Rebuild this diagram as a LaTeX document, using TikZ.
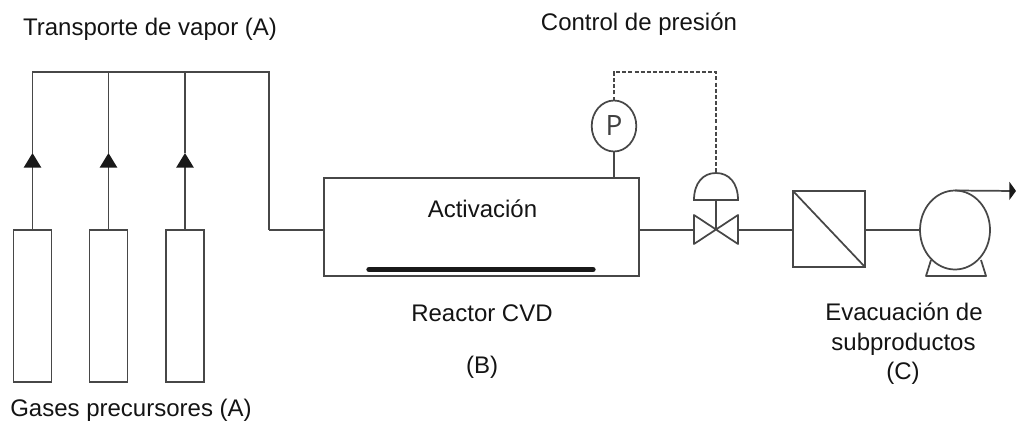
\documentclass[tikz,border=0pt]{standalone}
\usepackage{fontspec}
\setmainfont{Liberation Sans}
\newfontfamily\gaugefont{Open Sans}
\usetikzlibrary{arrows.meta,shapes.geometric}

\tikzset{
	pipe/.style={line width=1.3pt,draw=black!72},
	tube/.style={pipe,rectangle,minimum width=38*0.75pt,minimum height=152*0.75pt,inner sep=0pt,outer sep=0pt},
	flow/.style={pipe,-{Triangle[length=11pt,width=13pt,color=black!90]}},
	label/.style={font=\fontsize{18}{22}\selectfont,anchor=base,inner sep=0pt,text=black!92},
}

\begin{document}
\begin{tikzpicture}[x=0.75pt,y=-0.75pt]
	\useasboundingbox (0,0) rectangle (1016,421);

	%% gas bottles
	\node [tube] (b1) at (32.5,306) {};
	\node [tube] (b2) at (108.5,306) {};
	\node [tube] (b3) at (185,306) {};

	\coordinate (h1) at (32.5,72);
	\coordinate (h2) at (108.5,72);
	\coordinate (h3) at (185,72);
	\coordinate (h4) at (269,72);
	\coordinate (inlet) at (269,230);

	\coordinate (a1) at (32.5,153);
	\coordinate (a2) at (108.5,153);
	\coordinate (a3) at (185,153);

	\draw [flow] (b1.north) -- (a1);
	\draw [flow] (b2.north) -- (a2);
	\draw [flow] (b3.north) -- (a3);
	\draw [pipe] (a1) -- (h1) -- (h4) -- (inlet);
	\draw [pipe] (a2) -- (h2);
	\draw [pipe] (a3) -- (h3);

	%% reactor
	\node [pipe,draw,rectangle,minimum width=315*0.75pt,minimum height=98*0.75pt,inner sep=0pt,outer sep=0pt] (reactor) at (481.5,227) {};
	\draw [pipe] (inlet) -- (inlet -| reactor.west);
	\coordinate (s1) at (369,269.5);
	\coordinate (s2) at (593,269.5);
	\draw [line width=4pt,line cap=round,black!90] (s1) -- (s2);

	%% gauge
	\node [pipe,draw,ellipse,minimum width=44.6*0.75pt,minimum height=51*0.75pt,inner sep=0pt,outer sep=0pt,text=black!75,font=\gaugefont\fontsize{21}{24}\selectfont] (gauge) at (614,126) {P};
	\draw [pipe] (gauge.south) -- (gauge.south |- reactor.north);

	%% valve
	\coordinate (v) at (716,230);
	\coordinate (vl1) at (694,215);
	\coordinate (vl2) at (694,244);
	\coordinate (vr1) at (738,215);
	\coordinate (vr2) at (738,244);
	\coordinate (vl) at (694,230);
	\coordinate (vr) at (738,230);
	\coordinate (d1) at (694,200);
	\coordinate (d2) at (738,200);
	\coordinate (d) at (716,200);
	\coordinate (dtop) at (716,173);
	\draw [pipe,line join=round] (vl1) -- (vr2) -- (vr1) -- (vl2) -- cycle;
	\draw [pipe] (d1) .. controls (694,183) and (703,173) .. (dtop) .. controls (729,173) and (738,183) .. (d2) -- cycle;
	\draw [pipe] (d) -- (v);
	\draw [pipe] (reactor.east |- vl) -- (vl);

	%% dashed signal line
	\coordinate (c1) at (614,72);
	\coordinate (c2) at (716,72);
	\draw [pipe,dashed,dash pattern=on 3pt off 1.6pt] (gauge.north) -- (c1) -- (c2) -- (dtop);

	%% filter
	\node [pipe,draw,rectangle,minimum width=72*0.75pt,minimum height=76*0.75pt,inner sep=0pt,outer sep=0pt] (filter) at (829,229) {};
	\draw [pipe] (filter.north west) -- (filter.south east);
	\draw [pipe] (vr) -- (vr -| filter.west);

	%% pump
	\coordinate (f1) at (931,260);
	\coordinate (f2) at (926,276);
	\coordinate (f3) at (986,276);
	\coordinate (f4) at (981,260);
	\draw [pipe,line join=round] (f1) -- (f2) -- (f3) -- (f4);
	\node [pipe,draw,fill=white,ellipse,minimum width=70*0.75pt,minimum height=79*0.75pt,inner sep=0pt,outer sep=0pt] (pump) at (955,230) {};
	\draw [pipe] (vr -| filter.east) -- (pump.west);
	\coordinate (out) at (1016,191);
	\draw [pipe,-{Triangle[length=5pt,width=13.5pt,color=black!90]}] (pump.north) -- (out);

	%% labels
	\node [label] (ltransport) at (150,35) {Transporte de vapor (A)};
	\node [label] (lcontrol) at (639,31) {Control de presión};
	\node [label] (lactive) at (482.5,217) {Activación};
	\node [label] (lreactor) at (482,321) {Reactor CVD};
	\node [label] (lb) at (482,373) {(B)};
	\node [label] (lexhaust1) at (904,320) {Evacuación de};
	\node [label] (lexhaust2) at (903.5,350) {subproductos};
	\node [label] (lexhaust3) at (903,379) {(C)};
	\node [label] (lgases) at (131,416) {Gases precursores (A)};
\end{tikzpicture}
\end{document}
